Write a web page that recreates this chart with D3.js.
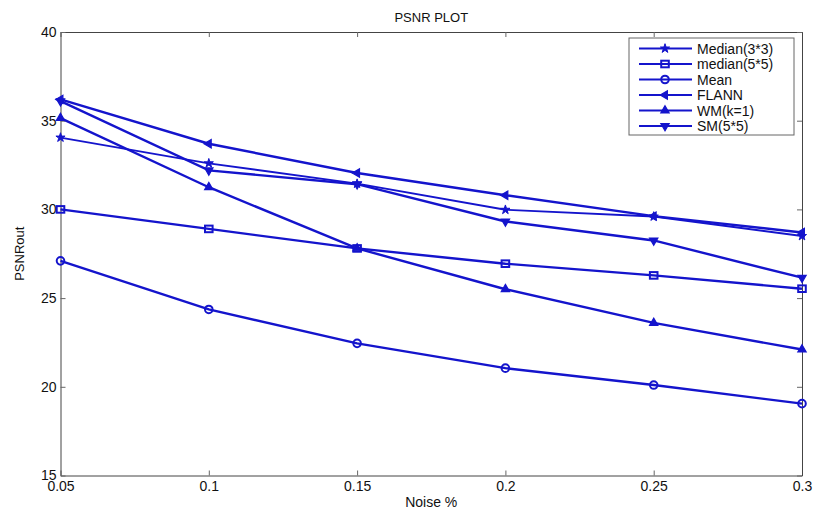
<!DOCTYPE html>
<html>
<head>
<meta charset="utf-8">
<script src="https://cdn.jsdelivr.net/npm/d3@7"></script>
<style>
  body { margin: 0; background: #fff; }
  text { font-family: "Liberation Sans", Arial, sans-serif; fill: #111; }
</style>
</head>
<body>
<script>
// noise levels on x axis
var noise = [0.05, 0.1, 0.15, 0.2, 0.25, 0.3];

// PSNR values
var median3 = [34.05, 32.6, 31.45, 29.98, 29.6, 28.5];
var median5 = [30.0, 28.9, 27.8, 26.94, 26.28, 25.53];
var mean = [27.1, 24.36, 22.45, 21.05, 20.1, 19.05];
var flann = [36.2, 33.7, 32.05, 30.8, 29.62, 28.7];
var wm = [35.15, 31.25, 27.8, 25.5, 23.6, 22.1];
var sm = [36.1, 32.2, 31.42, 29.32, 28.25, 26.15];

var seriesNames = ["Median(3*3)", "median(5*5)", "Mean", "FLANN", "WM(k=1)", "SM(5*5)"];
var seriesMarkers = ["star", "square", "circle", "left", "up", "down"];

var xTicks = [0.05, 0.1, 0.15, 0.2, 0.25, 0.3];
var yTicks = [15, 20, 25, 30, 35, 40];

var blue = "#1414cc";

var margin = {top: 32, right: 16, bottom: 38, left: 60.5},
    width = 818,
    height = 513,
    innerW = 802 - margin.left,
    innerH = 475.5 - margin.top;

var svg = d3.select("body").append("svg")
    .attr("width", width)
    .attr("height", height);

var g = svg.append("g")
    .attr("transform", "translate(" + margin.left + "," + margin.top + ")");

var x = d3.scaleLinear().domain([0.05, 0.3]).range([0, innerW]);
var y = d3.scaleLinear().domain([15, 40]).range([innerH, 0]);

// axes, matlab style: ticks pointing inward on all four sides
g.append("g")
    .attr("transform", "translate(0," + innerH + ")")
    .call(d3.axisBottom(x).tickValues(xTicks).tickSizeInner(-5).tickSizeOuter(0).tickPadding(6)
      .tickFormat(function(d) { return String(+d.toFixed(2)); }));
g.append("g")
    .call(d3.axisTop(x).tickValues(xTicks).tickSizeInner(-5).tickSizeOuter(0).tickFormat(""));
g.append("g")
    .call(d3.axisLeft(y).tickValues(yTicks).tickSizeInner(-5).tickSizeOuter(0).tickPadding(4));
g.append("g")
    .attr("transform", "translate(" + innerW + ",0)")
    .call(d3.axisRight(y).tickValues(yTicks).tickSizeInner(-5).tickSizeOuter(0).tickFormat(""));

g.selectAll(".domain").attr("stroke", "#444");
g.selectAll(".tick line").attr("stroke", "#666");
g.selectAll(".tick text")
    .style("font-family", "'Liberation Sans', Arial, sans-serif")
    .style("font-size", "14px")
    .attr("fill", "#111");

// titles
svg.append("text")
    .attr("x", margin.left + innerW / 2)
    .attr("y", 22)
    .attr("text-anchor", "middle")
    .style("font-size", "13px")
    .text("PSNR PLOT");

svg.append("text")
    .attr("x", margin.left + innerW / 2)
    .attr("y", 507)
    .attr("text-anchor", "middle")
    .style("font-size", "14px")
    .text("Noise %");

svg.append("text")
    .attr("transform", "translate(24," + (margin.top + innerH / 2) + ") rotate(-90)")
    .attr("text-anchor", "middle")
    .style("font-size", "13px")
    .text("PSNRout");

// marker shapes
function marker(sel, type) {
  if (type == "circle") {
    sel.append("circle").attr("r", 3.8).attr("fill", "none")
      .attr("stroke", blue).attr("stroke-width", 2);
  } else if (type == "square") {
    sel.append("rect").attr("x", -3.8).attr("y", -3.3).attr("width", 7.6).attr("height", 6.6)
      .attr("fill", "none").attr("stroke", blue).attr("stroke-width", 2);
  } else if (type == "star") {
    sel.append("path").attr("d", d3.symbol(d3.symbolStar, 26)())
      .attr("fill", blue).attr("stroke", blue).attr("stroke-width", 1);
  } else {
    var rot = {up: 0, down: 180, left: -90}[type];
    sel.append("path").attr("d", d3.symbol(d3.symbolTriangle, 30)())
      .attr("transform", "rotate(" + rot + ")")
      .attr("fill", blue).attr("stroke", blue).attr("stroke-width", 1.2);
  }
}

var allSeries = [median3, median5, mean, flann, wm, sm];

var line = d3.line()
    .x(function(d, i) { return x(noise[i]); })
    .y(function(d) { return y(d); });

allSeries.forEach(function(values, k) {
  g.append("path")
      .datum(values)
      .attr("fill", "none")
      .attr("stroke", blue)
      .attr("stroke-width", k == 0 ? 1.8 : 2.4)
      .attr("d", line);

  values.forEach(function(v, i) {
    var m = g.append("g").attr("transform", "translate(" + x(noise[i]) + "," + y(v) + ")");
    marker(m, seriesMarkers[k]);
  });
});

// legend
var legend = svg.append("g").attr("transform", "translate(629,38)");
legend.append("rect")
    .attr("width", 165)
    .attr("height", 97)
    .attr("fill", "#fff")
    .attr("stroke", "#666")
    .attr("stroke-width", 1);

seriesNames.forEach(function(name, k) {
  var row = legend.append("g").attr("transform", "translate(0," + (10.5 + k * 15.5) + ")");
  row.append("line")
      .attr("x1", 10).attr("x2", 63)
      .attr("stroke", blue).attr("stroke-width", 2.2);
  marker(row.append("g").attr("transform", "translate(36,0)"), seriesMarkers[k]);
  row.append("text")
      .attr("x", 68)
      .attr("dy", "0.36em")
      .style("font-size", "14px")
      .text(name);
});
</script>
</body>
</html>
